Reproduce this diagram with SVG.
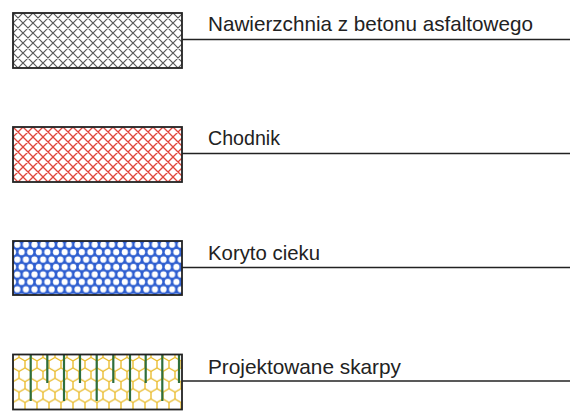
<svg xmlns="http://www.w3.org/2000/svg" width="576" height="411" viewBox="0 0 576 411">
<defs>
<pattern id="hatchBlack" patternUnits="userSpaceOnUse" width="10" height="10" x="13" y="13">
<path d="M0,0 L10,10 M10,0 L0,10 M-1,9 L1,11 M9,-1 L11,1 M-1,1 L1,-1 M9,11 L11,9" stroke="#5a5a5a" stroke-width="1.2" fill="none"/>
</pattern>
<pattern id="hatchRed" patternUnits="userSpaceOnUse" width="10" height="10" x="13" y="127">
<path d="M0,0 L10,10 M10,0 L0,10 M-1,9 L1,11 M9,-1 L11,1 M-1,1 L1,-1 M9,11 L11,9" stroke="#e0463c" stroke-width="1.3" fill="none"/>
</pattern>
<pattern id="dotsBlue" patternUnits="userSpaceOnUse" width="8.6" height="14.9" x="13" y="241">
<rect width="8.6" height="14.9" fill="#2f5fd0"/>
<circle cx="4.3" cy="3.7" r="3.1" fill="#fff"/>
<circle cx="0" cy="11.15" r="3.1" fill="#fff"/>
<circle cx="8.6" cy="11.15" r="3.1" fill="#fff"/>
</pattern>
<pattern id="hexYellow" patternUnits="userSpaceOnUse" width="12" height="20.78" x="13" y="354">
<path d="M6,3.464 L12,6.928 L12,13.856 L6,17.32 L0,13.856 L0,6.928 Z M6,0 L6,3.464 M6,17.32 L6,20.78" stroke="#e8b822" stroke-width="1.3" fill="none"/>
</pattern>
<style>
.box{stroke:#222;stroke-width:1.8}
.lead{stroke:#222;stroke-width:1.6;fill:none}
.lbl{font-family:"Liberation Sans","DejaVu Sans",sans-serif;font-size:21px;fill:#222}
.slope{stroke:#2e6e3c;stroke-width:2.2}
</style>
</defs>

<g id="connectors">
<line class="lead" x1="182" y1="39.5" x2="570" y2="39.5"/>
<line class="lead" x1="182" y1="153.5" x2="570" y2="153.5"/>
<line class="lead" x1="182" y1="267.5" x2="570" y2="267.5"/>
<line class="lead" x1="182" y1="381" x2="570" y2="381"/>
</g>

<g id="node-asfalt">
<rect class="box" x="13" y="13" width="169" height="55" fill="url(#hatchBlack)"/>
<text class="lbl" x="208" y="31" textLength="325" lengthAdjust="spacingAndGlyphs">Nawierzchnia z betonu asfaltowego</text>
</g>

<g id="node-chodnik">
<rect class="box" x="13" y="127" width="169" height="55" fill="url(#hatchRed)"/>
<text class="lbl" x="208" y="145" textLength="72" lengthAdjust="spacingAndGlyphs">Chodnik</text>
</g>

<g id="node-koryto">
<rect class="box" x="13" y="241" width="169" height="54" fill="url(#dotsBlue)"/>
<text class="lbl" x="208" y="260" textLength="112" lengthAdjust="spacingAndGlyphs">Koryto cieku</text>
</g>

<g id="node-skarpy">
<rect x="13" y="354.5" width="169" height="55" fill="#fff"/>
<rect x="13" y="354.5" width="169" height="55" fill="url(#hexYellow)"/>
<g class="slope">
<line x1="30.7" y1="355" x2="30.7" y2="401"/>
<line x1="47.3" y1="355" x2="47.3" y2="383"/>
<line x1="64" y1="355" x2="64" y2="401"/>
<line x1="80" y1="355" x2="80" y2="383"/>
<line x1="96.7" y1="355" x2="96.7" y2="401"/>
<line x1="113.3" y1="355" x2="113.3" y2="383"/>
<line x1="130" y1="355" x2="130" y2="401"/>
<line x1="145.7" y1="355" x2="145.7" y2="383"/>
<line x1="162.3" y1="355" x2="162.3" y2="401"/>
<line x1="179" y1="355" x2="179" y2="383"/>
</g>
<rect class="box" x="13" y="354.5" width="169" height="55" fill="none"/>
<text class="lbl" x="208" y="373.5" textLength="193" lengthAdjust="spacingAndGlyphs">Projektowane skarpy</text>
</g>
</svg>
